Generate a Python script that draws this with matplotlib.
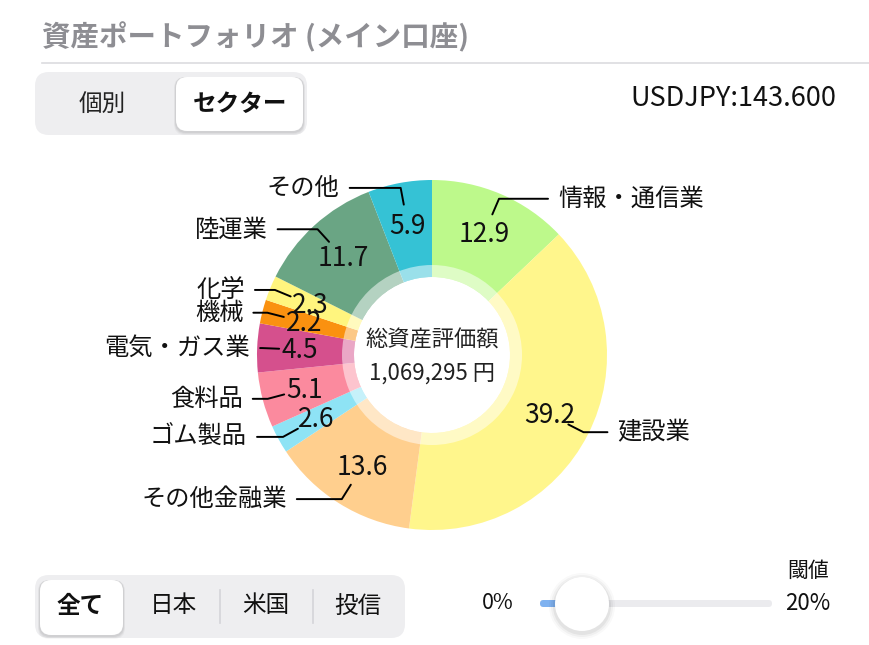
import matplotlib
matplotlib.use('Agg')
import matplotlib.pyplot as plt
import numpy as np
from matplotlib.patches import FancyBboxPatch, Circle, Wedge

plt.rcParams['font.family'] = ['Noto Sans CJK JP', 'DejaVu Sans']

# ---------------- data ----------------
title = '資産ポートフォリオ (メイン口座)'
view_tabs = ['個別', 'セクター']
usdjpy = 'USDJPY:143.600'
sectors = ['情報・通信業', '建設業', 'その他金融業', 'ゴム製品', '食料品',
           '電気・ガス業', '機械', '化学', '陸運業', 'その他']
shares = [12.9, 39.2, 13.6, 2.6, 5.1, 4.5, 2.2, 2.3, 11.7, 5.9]
colors = ['#BDF98B', '#FFF68C', '#FFCF8E', '#8EE3F5', '#FB8A9E',
          '#D5508D', '#FA9110', '#FFF57E', '#6AA584', '#35C2D5']
total_label = '総資産評価額'
total_value = '1,069,295 円'
region_tabs = ['全て', '日本', '米国', '投信']
slider_min, slider_max = '0%', '20%'
threshold_label = '閾値'

# ---------------- layout ----------------
leader_len = [49, 24, 45, 26, 15, 2, 14, 20, 40, 51]

W, H = 869, 645
fig = plt.figure(figsize=(W / 100, H / 100), dpi=100)
ax = fig.add_axes([0, 0, 1, 1])


def Y(py):
    return H - py


cx, cy = 432, Y(355)
R, r_in, r_band = 175, 78, 90

ax.pie(shares, colors=colors, startangle=90, counterclock=False, radius=R,
       center=(cx, cy), wedgeprops=dict(width=R - r_in, linewidth=0))
ax.add_patch(Wedge((cx, cy), r_band, 0, 360, width=r_band - r_in,
                   facecolor='white', alpha=0.5, linewidth=0))

ax.set_xlim(0, W)
ax.set_ylim(0, H)
ax.set_aspect('equal')
ax.axis('off')

# value labels and leader lines
cum = 0.0
total = sum(shares)
for name, v, L in zip(sectors, shares, leader_len):
    th = np.deg2rad(360 * (cum + v / 2) / total)
    cum += v
    s, c = np.sin(th), np.cos(th)
    ax.text(cx + 132 * s, cy + 132 * c - 1, f'{v:.1f}', ha='center', va='center',
            fontsize=19, color='#111111')
    x0, y0 = cx + 153 * s, cy + 153 * c
    x1, y1 = cx + 170 * s, cy + 170 * c
    d = 1 if s > 0 else -1
    x2 = x1 + d * L
    ax.plot([x0, x1, x2], [y0, y1, y1], color='black', lw=1.4,
            solid_capstyle='round', solid_joinstyle='round')
    ax.text(x2 + d * 10, y1, name, ha='left' if d > 0 else 'right', va='center',
            fontsize=17.5, color='#111111')

ax.text(cx, Y(340), total_label, ha='center', va='center', fontsize=16, color='#222222')
ax.text(cx, Y(373), total_value, ha='center', va='center', fontsize=16, color='#222222')

# ---------------- header ----------------
ax.text(42, Y(37), title, ha='left', va='center', fontsize=20.5, color='#8e8e93',
        fontweight='bold')
ax.plot([42, 869], [Y(63), Y(63)], color='#dcdcdf', lw=1.2)


def rbox(x, y, w, h, r, fc, shadow=False, z=2):
    if shadow:
        for k, a in ((4, 0.03), (3, 0.04), (2, 0.05)):
            ax.add_patch(FancyBboxPatch((x - k / 2, Y(y + h) - k), w + k, h + k,
                                        boxstyle=f'round,pad=0,rounding_size={r}',
                                        fc='black', ec='none', alpha=a, zorder=z))
    ax.add_patch(FancyBboxPatch((x, Y(y + h)), w, h,
                                boxstyle=f'round,pad=0,rounding_size={r}',
                                fc=fc, ec='none', zorder=z + 0.1))


# top segmented control
rbox(35, 72, 272, 63, 14, '#eeeef0', z=2)
rbox(176, 77, 127, 54, 11, 'white', shadow=True, z=3)
ax.text(102, Y(104), view_tabs[0], ha='center', va='center', fontsize=17,
        color='#222222', zorder=5)
ax.text(240, Y(104), view_tabs[1], ha='center', va='center', fontsize=17,
        color='#111111', fontweight='bold', zorder=5)

ax.text(836, Y(98), usdjpy, ha='right', va='center', fontsize=19.5, color='#111111')

# bottom segmented control
rbox(35, 575, 370, 63, 14, '#eeeef0', z=2)
rbox(40, 580, 83, 55, 11, 'white', shadow=True, z=3)
tab_x = [80, 173, 266, 358]
for i, (t, x) in enumerate(zip(region_tabs, tab_x)):
    ax.text(x, Y(606), t, ha='center', va='center', fontsize=17,
            color='#111111', fontweight='bold' if i == 0 else 'normal', zorder=5)
for sx in (220, 313):
    ax.plot([sx, sx], [Y(590), Y(623)], color='#d4d4d8', lw=1.2, zorder=4)

# slider
ax.text(498, Y(603), slider_min, ha='center', va='center', fontsize=15.5, color='#111111')
ax.text(808, Y(603), slider_max, ha='center', va='center', fontsize=16, color='#111111')
ax.text(808, Y(571), threshold_label, ha='center', va='center', fontsize=15, color='#111111')
ax.add_patch(FancyBboxPatch((540, Y(607)), 232, 7, boxstyle='round,pad=0,rounding_size=3.5',
                            fc='#ebebee', ec='none', zorder=2))
ax.add_patch(FancyBboxPatch((540, Y(607)), 30, 7, boxstyle='round,pad=0,rounding_size=3.5',
                            fc='#7fb2f0', ec='none', zorder=2.5))
for k, a in ((6, 0.025), (4, 0.035), (2, 0.05)):
    ax.add_patch(Circle((582, Y(606)), 27 + k, fc='black', ec='none', alpha=a, zorder=3))
ax.add_patch(Circle((582, Y(604)), 27, fc='white', ec='none', zorder=4))

fig.savefig('out.png', dpi=100, facecolor='white')
